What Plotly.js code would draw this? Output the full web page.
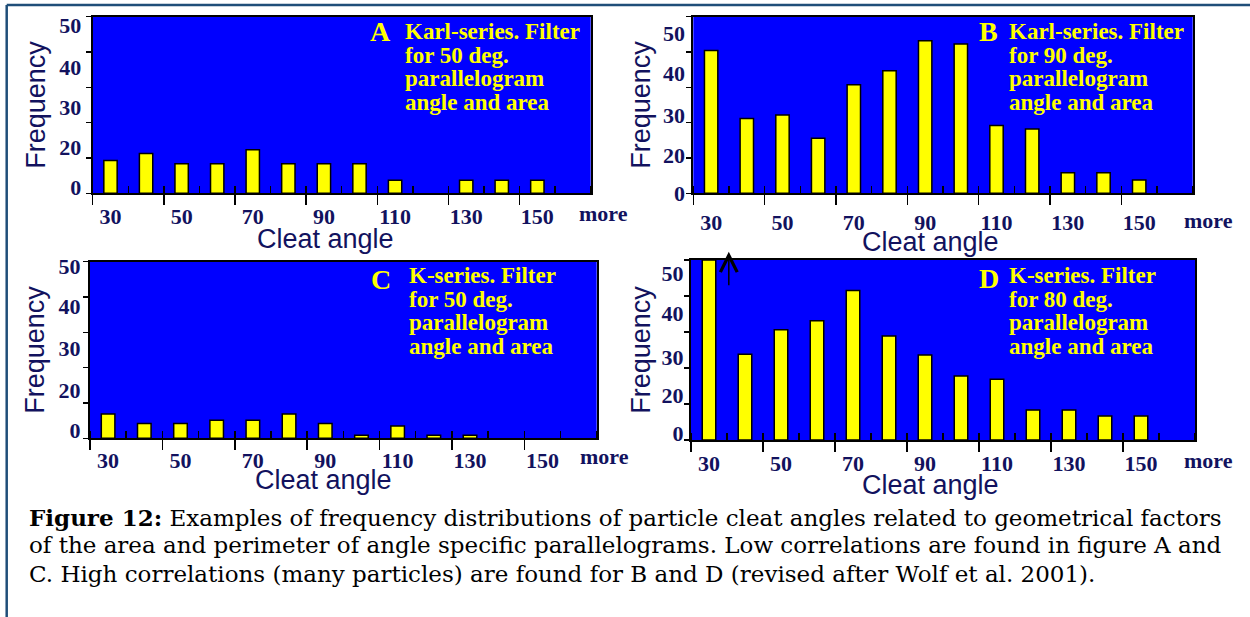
<!DOCTYPE html>
<html>
<head>
<meta charset="utf-8">
<script src="https://cdn.plot.ly/plotly-3.0.1.min.js"></script>
<style>html,body{margin:0;padding:0;background:#ffffff;}</style>
</head>
<body>
<div id="chart" style="width:1250px;height:617px;"></div>
<script>
// ---------------- data ----------------
const categories = ['30','40','50','60','70','80','90','100','110','120','130','140','150','more'];
const xTickText  = ['30','','50','','70','','90','','110','','130','','150',''];
const moreLabel  = 'more';
const yTickText  = ['0','20','30','40','50'];
const yTickVals  = [0, 10, 20, 30, 40, 50];

const freqA = [9.3, 11.3, 8.4, 8.4, 12.3, 8.4, 8.4, 8.4, 3.7, 0, 3.7, 3.7, 3.7, 0];
const freqB = [40.4, 21.2, 22.2, 15.6, 30.7, 34.7, 43.2, 42.3, 19.2, 18.2, 5.8, 5.8, 3.8, 0];
const freqC = [6.9, 4.2, 4.2, 5.1, 5.1, 6.9, 4.2, 0.85, 3.5, 0.85, 0.85, 0, 0, 0];
const freqD = [50, 23.8, 30.6, 33.1, 41.5, 28.9, 23.6, 17.8, 16.9, 8.3, 8.3, 6.7, 6.7, 0];

const panelLetters = ['A', 'B', 'C', 'D'];
const notesA = ['Karl-series. Filter', 'for 50 deg.', 'parallelogram', 'angle and area'];
const notesB = ['Karl-series. Filter', 'for 90 deg.', 'parallelogram', 'angle and area'];
const notesC = ['K-series. Filter', 'for 50 deg.', 'parallelogram', 'angle and area'];
const notesD = ['K-series. Filter', 'for 80 deg.', 'parallelogram', 'angle and area'];

const xTitle = 'Cleat angle';
const yTitle = 'Frequency';

const captionLines = [
  '<b>Figure 12:</b> Examples of frequency distributions of particle cleat angles related to geometrical factors',
  'of the area and perimeter of angle specific parallelograms. Low correlations are found in figure A and',
  'C. High correlations (many particles) are found for B and D (revised after Wolf et al. 2001).'
];

// ---------------- layout geometry (pixels) ----------------
const W = 1250, H = 617;
const px = v => v / W;
const py = v => 1 - v / H;

const geom = [
  {l: 92.7,  r: 590.7,  t: 16.7,  b: 193.3, ylab: [1.8, 13.1, 24.4, 35.8, 47.7],  more: [603.3, 213], letter: [368, 40.7],   note: [403.3, 39.3],  xStand: 2, yStand: 5, xTitlePos: [325, 238.5], yTitleStand: 6},
  {l: 693.3, r: 1192.7, t: 16.7,  b: 193.3, ylab: [0, 10.8, 22.1, 34.0, 45.3],    more: [1208, 220],  letter: [976.7, 40.7], note: [1007.3, 39.3], xStand: 8, yStand: 2, xTitlePos: [930, 242],   yTitleStand: 4},
  {l: 90,    r: 596.7,  t: 261.7, b: 438.3, ylab: [2.3, 13.7, 25.4, 37.3, 48.6],  more: [604, 456.7], letter: [369.3, 289],  note: [406.7, 283.3], xStand: 1, yStand: 3, xTitlePos: [323, 480],   yTitleStand: 6},
  {l: 691,   r: 1195,   t: 260,   b: 440,   ylab: [1.85, 12.5, 23.1, 35.2, 46.3], more: [1208, 460],  letter: [976.7, 287.7], note: [1007.3, 283.3], xStand: 3, yStand: 1, xTitlePos: [930, 485],   yTitleStand: 3}
];
const noteStep = 23.6;

// ---------------- styles ----------------
const NAVY = '#12125e';
const YELLOW = '#ffff00';
const serifBold = {family: 'Liberation Serif, Times New Roman, serif', size: 22, color: NAVY, weight: 'bold'};
const sansTitle = {family: 'Liberation Sans, Arial, sans-serif', size: 27, color: NAVY};

const series = [freqA, freqB, freqC, freqD];
const notes = [notesA, notesB, notesC, notesD];

const data = [];
const layout = {
  width: W, height: H,
  margin: {l: 0, r: 0, t: 0, b: 0, pad: 0},
  paper_bgcolor: '#ffffff',
  plot_bgcolor: '#0000ff',
  bargap: 0.625,
  showlegend: false,
  annotations: [],
  shapes: [
    {type: 'line', xref: 'paper', yref: 'paper', x0: px(6.7), x1: 1, y0: py(5), y1: py(5), line: {color: '#1f4e79', width: 2.5}},
    {type: 'line', xref: 'paper', yref: 'paper', x0: px(6.7), x1: px(6.7), y0: py(5), y1: 0, line: {color: '#1f4e79', width: 2.5}}
  ]
};

geom.forEach((g, i) => {
  const n = i + 1;
  const xid = n === 1 ? 'x' : 'x' + n;
  const yid = n === 1 ? 'y' : 'y' + n;
  const xkey = n === 1 ? 'xaxis' : 'xaxis' + n;
  const ykey = n === 1 ? 'yaxis' : 'yaxis' + n;

  data.push({
    type: 'bar', x: categories, y: series[i], xaxis: xid, yaxis: yid,
    marker: {color: YELLOW, line: {color: '#000000', width: series[i].map(v => v > 0 ? 1.5 : 0)}},
    hovertemplate: '%{x}: %{y}<extra></extra>'
  });

  layout[xkey] = {
    domain: [px(g.l), px(g.r)], anchor: yid, type: 'category',
    categoryorder: 'array', categoryarray: categories,
    range: [-0.5, categories.length - 0.5],
    tickmode: 'array', tickvals: categories, ticktext: xTickText, tickangle: 0,
    tickson: 'boundaries', ticks: 'outside', ticklen: 10, tickwidth: 1.5, tickcolor: '#000',
    // inside part of the boundary ticks (they cross the axis line in the original)
    minor: {tickmode: 'array', tickvals: categories, ticks: 'inside', ticklen: 7, tickwidth: 1.5, tickcolor: '#000', showgrid: false},
    ticklabelstandoff: g.xStand,
    tickfont: serifBold,
    showline: true, linecolor: '#000', linewidth: 2, mirror: true,
    showgrid: false, zeroline: false, fixedrange: true
  };
  layout[ykey] = {
    domain: [py(g.b), py(g.t)], anchor: xid, range: [0, 50],
    tickmode: 'array', tickvals: g.ylab, ticktext: yTickText, tickangle: 0,
    ticks: '', ticklabelstandoff: g.yStand,
    minor: {tickmode: 'array', tickvals: yTickVals, ticks: 'outside', ticklen: 5, tickwidth: 1.5, tickcolor: '#000', showgrid: false},
    tickfont: serifBold,
    showline: true, linecolor: '#000', linewidth: 2, mirror: true,
    showgrid: false, zeroline: false, fixedrange: true,
    title: {text: yTitle, font: sansTitle, standoff: g.yTitleStand}
  };

  // x-axis title
  layout.annotations.push({
    xref: 'paper', yref: 'paper', x: px(g.xTitlePos[0]), y: py(g.xTitlePos[1]),
    xanchor: 'center', yanchor: 'middle', text: xTitle, showarrow: false, font: sansTitle
  });
  // "more" label
  layout.annotations.push({
    xref: 'paper', yref: 'paper', x: px(g.more[0]), y: py(g.more[1]),
    xanchor: 'center', yanchor: 'middle', text: moreLabel, showarrow: false, font: serifBold
  });
  // panel letter
  layout.annotations.push({
    xref: 'paper', yref: 'paper', x: px(g.letter[0]), y: py(g.letter[1] - 0.3375 * 28),
    xanchor: 'left', yanchor: 'middle', text: panelLetters[i], showarrow: false,
    font: {family: 'Liberation Serif, Times New Roman, serif', size: 28, color: YELLOW, weight: 'bold'}
  });
  // panel note lines
  notes[i].forEach((line, k) => {
    layout.annotations.push({
      xref: 'paper', yref: 'paper', x: px(g.note[0]), y: py(g.note[1] + k * noteStep - 0.3375 * 23),
      xanchor: 'left', yanchor: 'middle', text: line, showarrow: false,
      font: {family: 'Liberation Serif, Times New Roman, serif', size: 23, color: YELLOW, weight: 'bold'}
    });
  });
});

// arrow in panel D marking the off-scale first bar
layout.annotations.push({
  xref: 'x4', yref: 'y4', axref: 'x4', ayref: 'y4',
  x: 0.55, y: 52.3, ax: 0.55, ay: 42.6, text: '', showarrow: true,
  arrowhead: 5, arrowsize: 2.2, arrowwidth: 1.5, arrowcolor: '#000000'
});

// caption
const capBase = [525, 553.3, 581.7];
const capSize = 23;
captionLines.forEach((line, k) => {
  layout.annotations.push({
    xref: 'paper', yref: 'paper', x: px(27), y: py(capBase[k] - 0.346 * capSize),
    xanchor: 'left', yanchor: 'middle', text: line, showarrow: false, align: 'left',
    font: {family: 'DejaVu Serif, serif', size: capSize, color: '#000000'}
  });
});

Plotly.newPlot('chart', data, layout, {displayModeBar: false, staticPlot: true});
</script>
</body>
</html>
